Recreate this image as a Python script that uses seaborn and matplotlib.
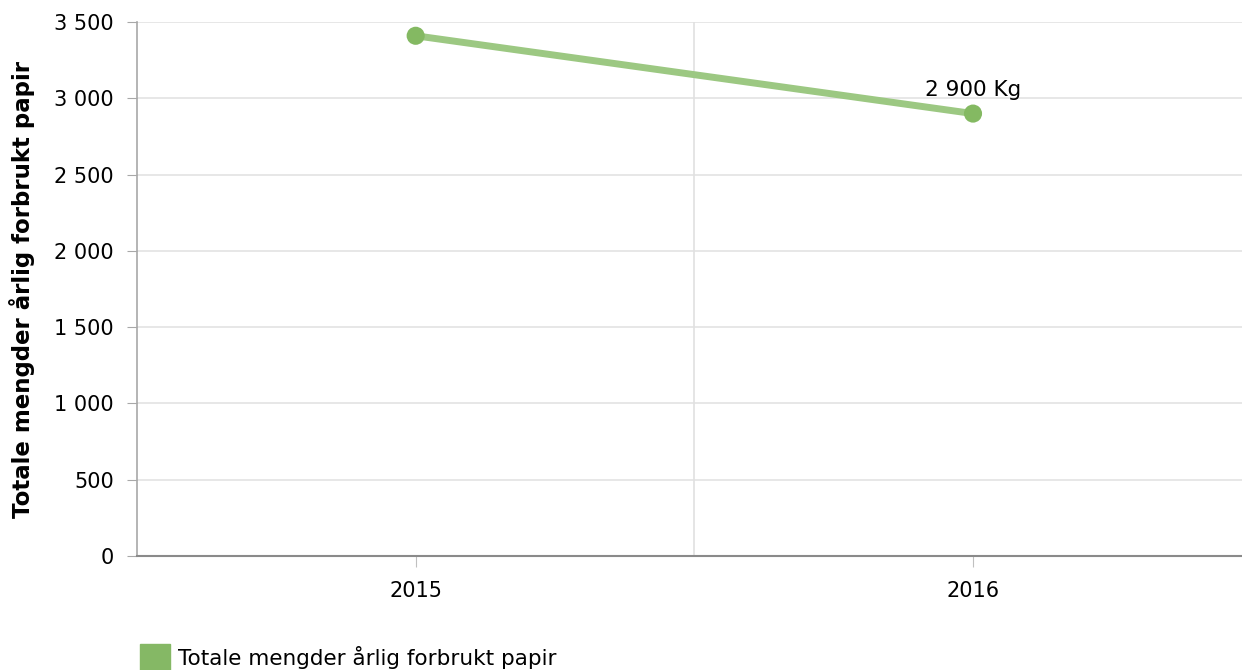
import matplotlib
matplotlib.use("Agg")
import matplotlib.pyplot as plt
import matplotlib.ticker as mticker
import matplotlib.patches as mpatches
import seaborn as sns
import pandas as pd

years = ["2015", "2016"]
values = [3410, 2900]
series_name = "Totale mengder årlig forbrukt papir"
y_label = "Totale mengder årlig forbrukt papir"

df = pd.DataFrame({"year": years, "value": values})

sns.set_style("white")
plt.rcParams["font.family"] = ["DejaVu Sans"]
plt.rcParams["text.color"] = "black"
plt.rcParams["axes.labelcolor"] = "black"
plt.rcParams["xtick.color"] = "black"
plt.rcParams["ytick.color"] = "black"

fig = plt.figure(figsize=(12.42, 6.7), dpi=100)
ax = fig.add_axes([0.1103, 0.1701, 0.8975, 0.7970])

line_color = "#9cc882"
marker_color = "#84b962"

sns.lineplot(data=df, x="year", y="value", ax=ax, color=line_color,
             linewidth=5, sort=False)
sns.scatterplot(data=df, x="year", y="value", ax=ax, color=marker_color,
                s=170, edgecolor="none", zorder=5)

ax.set_xlim(-0.5, 1.5)
ax.set_ylim(0, 3500)
ax.yaxis.set_major_locator(mticker.MultipleLocator(500))
ax.yaxis.set_major_formatter(
    mticker.FuncFormatter(lambda v, p: f"{int(v):,}".replace(",", " ")))

for y in range(500, 3501, 500):
    ax.axhline(y, color="#e3e3e3", linewidth=1.2, zorder=0)
ax.axvline(0.5, color="#e0e0e0", linewidth=1.2, zorder=0)

# label on last point
last = df.iloc[-1]
ax.annotate(f"{last['value']:,} Kg".replace(",", " "),
            xy=(1, last["value"]), xytext=(0, 10), textcoords="offset points",
            ha="center", va="bottom", fontsize=15.5, color="black")

for s in ["top", "right"]:
    ax.spines[s].set_visible(False)
ax.spines["left"].set_color("#a8a8a8")
ax.spines["bottom"].set_color("#8a8a8a")
ax.spines["left"].set_linewidth(1.2)
ax.spines["bottom"].set_linewidth(1.5)

ax.tick_params(axis="y", which="major", direction="out", length=7.5,
               color="#a8a8a8", labelsize=15, pad=9, left=True)
ax.tick_params(axis="x", which="major", direction="out", length=8,
               color="#c0c0c0", labelsize=15, pad=10, bottom=True)

ax.set_xlabel("")
ax.set_ylabel(y_label, fontsize=16.5, fontweight="bold", labelpad=14)

handle = mpatches.Patch(color="#85b865", label=series_name)
fig.legend(handles=[handle], loc="lower left", bbox_to_anchor=(0.097, -0.03),
           frameon=False, fontsize=15.5, handlelength=1.4, handleheight=1.5,
           handletextpad=0.37)

fig.savefig("out.png", dpi=100)
